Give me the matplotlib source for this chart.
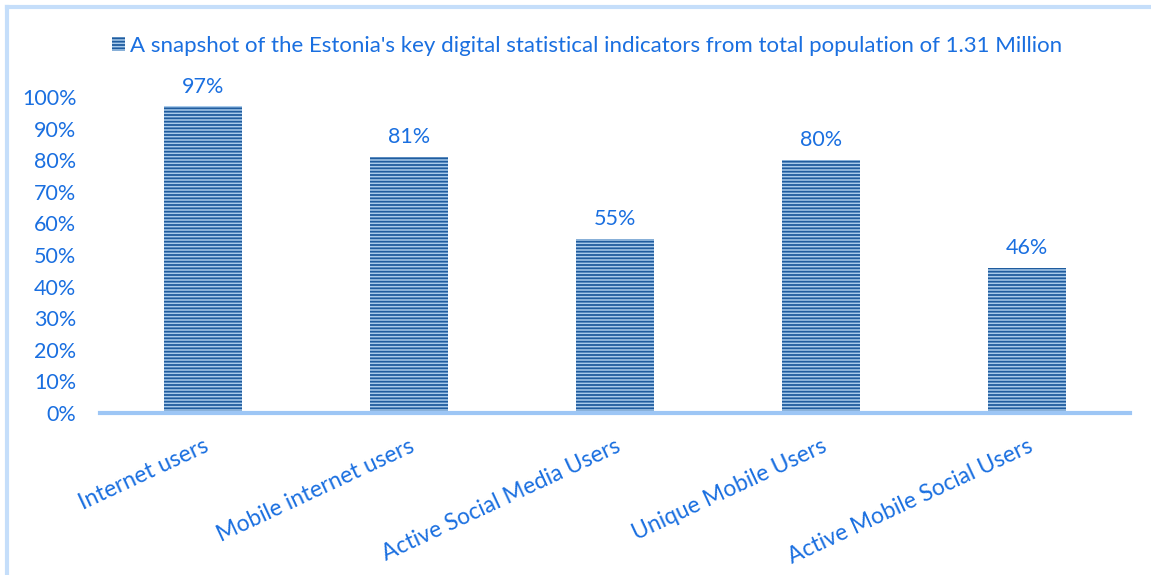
import matplotlib.pyplot as plt
import matplotlib.lines as mlines
from matplotlib.patches import Patch
from matplotlib.ticker import PercentFormatter

categories = ["Internet users", "Mobile internet users", "Active Social Media Users",
              "Unique Mobile Users", "Active Mobile Social Users"]
values = [97, 81, 55, 80, 46]
series_name = "A snapshot of the Estonia's key digital statistical indicators from total population of 1.31 Million"

text_blue = "#1A6FE0"
bar_dark = "#1F5C9E"
bar_light = "#A9CBEB"
axis_blue = "#9DC6F5"

plt.rcParams["font.family"] = ["Lato", "DejaVu Sans"]
plt.rcParams["hatch.color"] = bar_dark
plt.rcParams["hatch.linewidth"] = 1.3

fig = plt.figure(figsize=(11.51, 5.75), dpi=100)
ax = fig.add_axes([0.0869, 0.2817, 0.8949, 0.5496])

x = range(len(categories))
ax.bar(x, values, width=0.38, color=bar_light, edgecolor=bar_dark, linewidth=0,
       hatch="-----")

for xi, v in zip(x, values):
    ax.annotate(f"{v}%", (xi, v), xytext=(0, 7), textcoords="offset points",
                ha="center", va="bottom", color=text_blue, fontsize=15.5)

ax.set_xlim(-0.5, len(categories) - 0.5)
ax.set_ylim(0, 100)
ax.set_yticks(range(0, 101, 10))
ax.yaxis.set_major_formatter(PercentFormatter(decimals=0))
ax.set_xticks(list(x))
ax.set_xticklabels(categories, rotation=25, ha="right", rotation_mode="anchor",
                   fontsize=16.5)

ax.tick_params(axis="both", length=0, colors=text_blue)
ax.tick_params(axis="y", pad=17, labelsize=15.5)
ax.tick_params(axis="x", pad=16)
for side in ["top", "right", "left"]:
    ax.spines[side].set_visible(False)
ax.spines["bottom"].set_color(axis_blue)
ax.spines["bottom"].set_linewidth(3)

handle = Patch(facecolor=bar_light, edgecolor=bar_dark, linewidth=0, hatch="-----")
fig.legend([handle], [series_name], loc="center", bbox_to_anchor=(0.51, 0.92),
           frameon=False, fontsize=16, labelcolor=text_blue, handlelength=0.6,
           handleheight=0.6, handletextpad=0.25)

# light blue frame lines at the top and left edge
fig.add_artist(mlines.Line2D([0.0065, 1.0], [0.9875, 0.9875], color="#C5DEFA", linewidth=3,
                             transform=fig.transFigure))
fig.add_artist(mlines.Line2D([0.0065, 0.0065], [0.0, 0.9875], color="#C5DEFA", linewidth=3,
                             transform=fig.transFigure))

fig.savefig("out.png", dpi=100)
